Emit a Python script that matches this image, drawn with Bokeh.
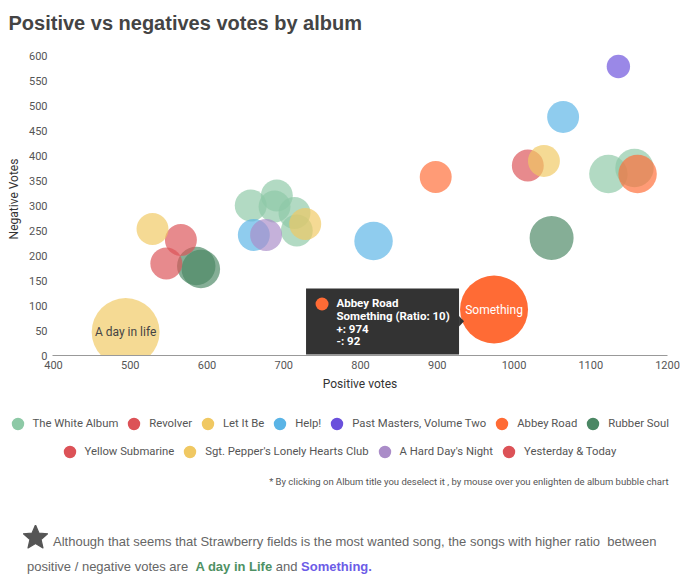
import math
from bokeh.plotting import figure
from bokeh.models import (ColumnDataSource, CDSView, GroupFilter, Range1d,
                          FixedTicker, Legend, LegendItem, Label, Div)
from bokeh.layouts import column
from bokeh.core.properties import value
from bokeh.embed import file_html
from bokeh.resources import INLINE

# ---------------- data ----------------
legend_albums = ["The White Album", "Revolver", "Let It Be", "Help!",
                 "Past Masters, Volume Two", "Abbey Road", "Rubber Soul",
                 "Yellow Submarine", "Sgt. Pepper's Lonely Hearts Club",
                 "A Hard Day's Night", "Yesterday & Today"]
album_colors = ["#8dc9a6", "#dc5257", "#f0c862", "#5ab4e6", "#6a50dc", "#ff6b35",
                "#4b8764", "#dc5257", "#f0c862", "#aa8cc8", "#dc5257"]

albums = ["Past Masters, Volume Two", "Help!", "Revolver", "Let It Be", "Abbey Road",
          "The White Album", "The White Album", "Abbey Road", "Help!", "Rubber Soul",
          "Sgt. Pepper's Lonely Hearts Club", "Yellow Submarine", "Yesterday & Today",
          "Rubber Soul", "Rubber Soul", "The White Album", "The White Album",
          "The White Album", "The White Album", "The White Album", "Let It Be",
          "Help!", "A Hard Day's Night", "Sgt. Pepper's Lonely Hearts Club", "Abbey Road"]
bubble_labels = ["", "", "", "", "", "", "", "", "", "", "", "", "", "", "", "", "", "",
                 "", "", "", "", "", "A day in life", "Something"]
positive = [1136, 1064, 1018, 1039, 898, 1123, 1157, 1161, 817, 1049, 529, 566, 547,
            586, 592, 657, 691, 688, 714, 717, 728, 661, 677, 494, 974]
negative = [578, 477, 380, 389, 357, 363, 375, 363, 229, 235, 253, 231, 184,
            179, 173, 300, 320, 298, 285, 250, 263, 241, 241, 47, 92]
ratio = [1, 2, 2, 2, 2, 3, 3, 3, 3, 4, 2, 2, 2, 3, 3, 2, 2, 2, 2, 2, 2, 2, 2, 10, 10]

x_ticks = [400, 500, 600, 700, 800, 900, 1000, 1100, 1200]
y_ticks = [0, 50, 100, 150, 200, 250, 300, 350, 400, 450, 500, 550, 600]
highlighted = "Something"

title_text = "Positive vs negatives votes by album"
x_title = "Positive votes"
y_title = "Negative Votes"
note_text = ("* By clicking on Album title you deselect it , by mouse over you "
             "enlighten de album bubble chart")
footer_line1 = ("Although that seems that Strawberry fields is the most wanted song, "
                "the songs with higher ratio&nbsp; between")
footer_prefix = "positive / negative votes are&nbsp; "
footer_song1 = "A day in Life"
footer_song2 = "Something."

# ---------------- layout constants ----------------
W = 700
FRAME_L, FRAME_R, FRAME_T, FRAME_B = 52, 33, 42, 40
MAIN_H = 395
X0, X1 = 398.7, 1200
Y0, Y1 = 0, 626
kx = (X1 - X0) / (W - FRAME_L - FRAME_R)
ky = (Y1 - Y0) / (MAIN_H - FRAME_T - FRAME_B)

color_of = dict(zip(legend_albums, album_colors))
diam = [2 * (10.3 * math.sqrt(r) + 1.4) for r in ratio]
alpha = [1.0 if l == highlighted else 0.68 for l in bubble_labels]
label_color = ["#ffffff" if l == highlighted else "#444444" for l in bubble_labels]

src = ColumnDataSource(dict(x=positive, y=negative, album=albums, label=bubble_labels,
                            ratio=ratio, d=diam, alpha=alpha, tcolor=label_color))

# ---------------- main figure ----------------
p = figure(width=W, height=MAIN_H, x_range=Range1d(X0, X1), y_range=Range1d(Y0, Y1),
           output_backend="svg", toolbar_location=None,
           min_border_left=FRAME_L, min_border_right=FRAME_R,
           min_border_top=FRAME_T, min_border_bottom=FRAME_B, title=title_text)
p.outline_line_color = None
p.grid.visible = False
p.title.text_font = "Liberation Sans"
p.title.text_font_size = "20px"
p.title.text_font_style = "bold"
p.title.text_color = "#444444"
p.title.align = "left"
p.title.offset = -FRAME_L + 8
p.title.standoff = 18

for ax in (p.xaxis[0], p.yaxis[0]):
    ax.major_tick_line_color = None
    ax.minor_tick_line_color = None
    ax.major_tick_out = 0
    ax.major_tick_in = 0
    ax.minor_tick_out = 0
    ax.minor_tick_in = 0
    ax.major_label_text_font = "Roboto"
    ax.major_label_text_font_size = "11px"
    ax.major_label_text_color = "#555555"
    ax.axis_label_text_font = "Roboto"
    ax.axis_label_text_font_size = "12px"
    ax.axis_label_text_font_style = "normal"
    ax.axis_label_text_color = "#333333"
    ax.major_label_standoff = 5
    ax.axis_label_standoff = 5
p.xaxis.axis_label = x_title
p.yaxis.axis_label = y_title
p.xaxis.ticker = FixedTicker(ticks=x_ticks)
p.yaxis.ticker = FixedTicker(ticks=y_ticks)
p.xaxis.axis_line_color = "#999999"
p.yaxis.axis_line_color = None

for name, col in zip(legend_albums, album_colors):
    view = CDSView(filter=GroupFilter(column_name="album", group=name))
    p.scatter("x", "y", source=src, view=view, size="d", fill_color=col,
              fill_alpha="alpha", line_color=None)

p.text("x", "y", text="label", source=src, text_color="tcolor",
       text_font=value("Roboto"), text_font_size="12px",
       text_align="center", text_baseline="middle")

# tooltip of the highlighted bubble
hi = bubble_labels.index(highlighted)
ax0, ay0 = positive[hi], negative[hi]


def dx(px):
    return ax0 + px * kx


def dy(py):
    return ay0 - py * ky


p.quad(left=[dx(-188)], right=[dx(-35)], top=[dy(-21)], bottom=[dy(45)],
       fill_color="#333333", line_color=None)
p.patch(x=[dx(-35), dx(-30), dx(-35)], y=[dy(6.5), dy(11.7), dy(17)],
        fill_color="#333333", line_color=None)
p.scatter(x=[dx(-172)], y=[dy(-5.5)], size=13, fill_color=color_of[albums[hi]],
          line_color=None)
tip_lines = [albums[hi], f"{bubble_labels[hi]} (Ratio: {ratio[hi]})",
             f"+: {positive[hi]}", f"-: {negative[hi]}"]
line_offsets = [-6.6, 6.0, 19.2, 31.8]
p.text(x=[dx(-157.6)] * 4, y=[dy(o) for o in line_offsets], text=tip_lines,
       text_color="#ffffff", text_font=value("Roboto"), text_font_style="bold",
       text_font_size="11.5px", text_baseline="middle", text_align="left")

# ---------------- legend figure ----------------
LEG_H = 92
lf = figure(width=W, height=LEG_H, x_range=Range1d(0, W), y_range=Range1d(0, LEG_H),
            output_backend="svg", toolbar_location=None, min_border=0,
            x_axis_location=None, y_axis_location=None)
lf.outline_line_color = None
lf.grid.visible = False

items = []
for name, col in zip(legend_albums, album_colors):
    view = CDSView(filter=GroupFilter(column_name="album", group=name))
    r = lf.scatter("x", "y", source=src, view=view, fill_color=col,
                   line_color=None, visible=False)
    items.append(LegendItem(label=name, renderers=[r]))


def make_legend(its, loc):
    return Legend(items=its, location=loc, orientation="horizontal",
                  glyph_width=31, glyph_height=31, label_standoff=0, spacing=0,
                  padding=0, margin=0, border_line_color=None,
                  background_fill_alpha=0, label_text_font="Roboto",
                  label_text_font_size="11.3px", label_text_color="#555555")


lf.add_layout(make_legend(items[:7], (1.5, 48.5)))
lf.add_layout(make_legend(items[7:], (53.5, 20.5)))
lf.add_layout(Label(x=668, y=6, text=note_text, text_align="right",
                    text_baseline="middle", text_font="Roboto",
                    text_font_size="9.5px", text_color="#555555"))

# ---------------- footer ----------------
pts = []
for k in range(10):
    ang = -math.pi / 2 + k * math.pi / 5
    rad = 12.7 if k % 2 == 0 else 5.8
    pts.append(f"{12.5 + rad * math.cos(ang):.2f},{12.7 + rad * math.sin(ang):.2f}")
star_svg = ('<svg width="25" height="25" style="position:absolute;left:23px;top:38px">'
            f'<polygon points="{" ".join(pts)}" fill="#555555" '
            'stroke="#555555" stroke-width="1.2" stroke-linejoin="round"/></svg>')
FOOT_H = 90
footer_html = (
    f'<div style="position:relative;width:{W}px;height:{FOOT_H}px;overflow:visible;'
    "font-family:'Liberation Sans',Arial,sans-serif;font-size:13px;color:#666666;\">"
    f"{star_svg}"
    '<div style="position:absolute;left:53px;top:48px;line-height:14px;white-space:nowrap;">'
    f"{footer_line1}</div>"
    '<div style="position:absolute;left:27px;top:73px;line-height:14px;white-space:nowrap;">'
    f'{footer_prefix}<b style="color:#4e9164">{footer_song1}</b> and '
    f'<b style="color:#6c5ce7">{footer_song2}</b></div>'
    "</div>"
)
footer = Div(text=footer_html, width=W, height=FOOT_H, margin=0)

layout = column(p, column(lf), footer)
open("out.html", "w").write(file_html(layout, INLINE))
